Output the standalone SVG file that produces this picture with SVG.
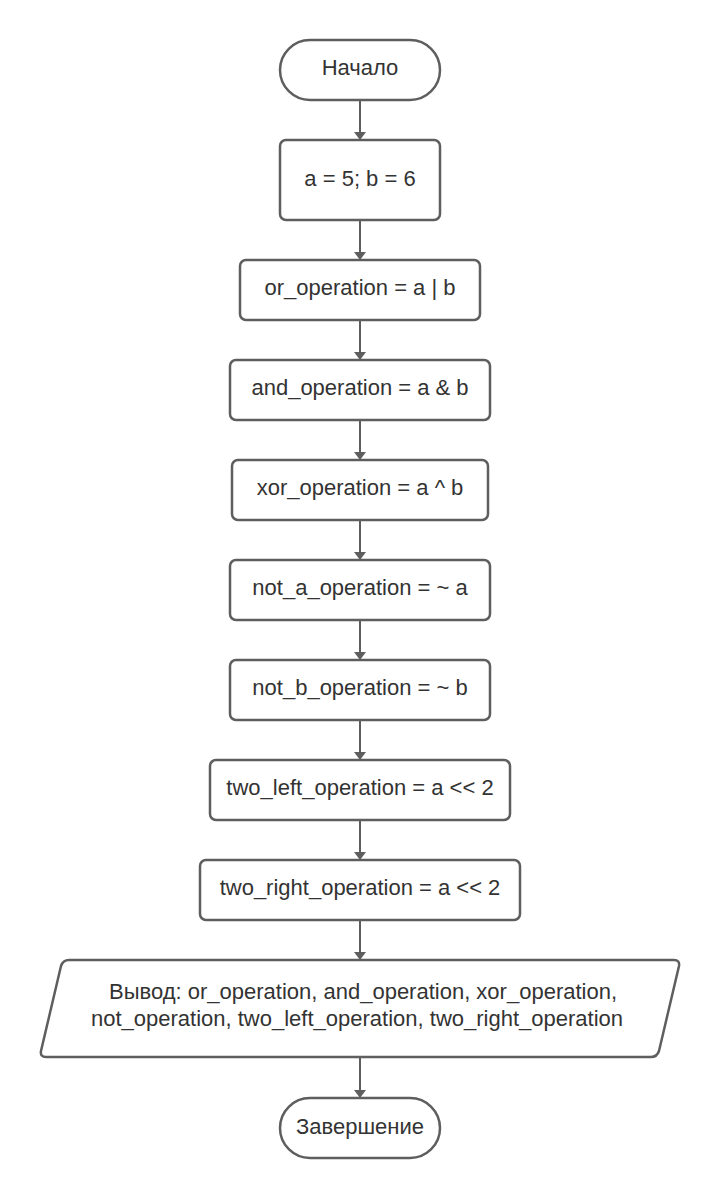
<svg xmlns="http://www.w3.org/2000/svg" width="720" height="1198" viewBox="0 0 720 1198">
<style>
.n{fill:#ffffff;stroke:#5e5e5e;stroke-width:2.5}
.t{font-family:"Liberation Sans",Arial,sans-serif;font-size:22px;fill:#333333;text-anchor:middle}
.c{stroke:#5e5e5e;stroke-width:2;fill:none;marker-end:url(#ah)}
</style>
<defs>
<marker id="ah" viewBox="0 0 12 18" refX="12" refY="9" markerWidth="18" markerHeight="12" markerUnits="userSpaceOnUse" orient="auto">
<path d="M0,0 L12,9 L0,18 z" fill="#5e5e5e"/>
</marker>
</defs>
<rect width="720" height="1198" fill="#ffffff"/>
<g id="connectors">
<line class="c" x1="360" y1="100" x2="360" y2="140"/>
<line class="c" x1="360" y1="220" x2="360" y2="260"/>
<line class="c" x1="360" y1="320" x2="360" y2="360"/>
<line class="c" x1="360" y1="420" x2="360" y2="460"/>
<line class="c" x1="360" y1="520" x2="360" y2="560"/>
<line class="c" x1="360" y1="620" x2="360" y2="660"/>
<line class="c" x1="360" y1="720" x2="360" y2="760"/>
<line class="c" x1="360" y1="820" x2="360" y2="860"/>
<line class="c" x1="360" y1="920" x2="360" y2="960"/>
<line class="c" x1="360" y1="1057" x2="360" y2="1098"/>
</g>
<g id="start">
<rect class="n" x="280" y="40" width="160" height="60" rx="30"/>
<text class="t" x="360" y="75">Начало</text>
</g>
<g id="init">
<rect class="n" x="280" y="140" width="160" height="80" rx="6"/>
<text class="t" x="360" y="186">a = 5; b = 6</text>
</g>
<g id="or">
<rect class="n" x="240" y="260" width="240" height="60" rx="6"/>
<text class="t" x="360" y="295">or_operation = a | b</text>
</g>
<g id="and">
<rect class="n" x="230" y="360" width="260" height="60" rx="6"/>
<text class="t" x="360" y="395">and_operation = a &amp; b</text>
</g>
<g id="xor">
<rect class="n" x="232" y="460" width="256" height="60" rx="6"/>
<text class="t" x="360" y="495">xor_operation = a ^ b</text>
</g>
<g id="not_a">
<rect class="n" x="230" y="560" width="260" height="60" rx="6"/>
<text class="t" x="360" y="595">not_a_operation = ~ a</text>
</g>
<g id="not_b">
<rect class="n" x="230" y="660" width="260" height="60" rx="6"/>
<text class="t" x="360" y="695">not_b_operation = ~ b</text>
</g>
<g id="two_left">
<rect class="n" x="210" y="760" width="300" height="60" rx="6"/>
<text class="t" x="360" y="795">two_left_operation = a &lt;&lt; 2</text>
</g>
<g id="two_right">
<rect class="n" x="200" y="860" width="320" height="60" rx="6"/>
<text class="t" x="360" y="895">two_right_operation = a &lt;&lt; 2</text>
</g>
<g id="output">
<path class="n" d="M69,960 L674,960 Q680,960 679,966 L659,1051 Q657,1057 651,1057 L46,1057 Q40,1057 41,1051 L61,966 Q63,960 69,960 Z"/>
<text class="t" x="363" y="999">Вывод: or_operation, and_operation, xor_operation,</text>
<text class="t" x="357" y="1026">not_operation, two_left_operation, two_right_operation</text>
</g>
<g id="end">
<rect class="n" x="280" y="1098" width="160" height="60" rx="30"/>
<text class="t" x="360" y="1134">Завершение</text>
</g>
</svg>
